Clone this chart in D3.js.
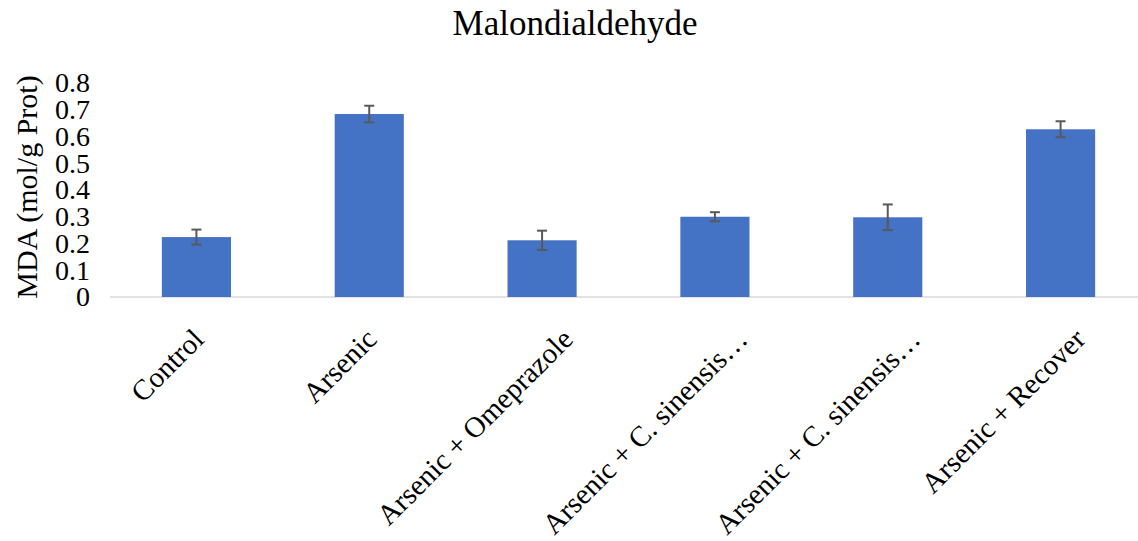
<!DOCTYPE html>
<html><head><meta charset="utf-8">
<script src="https://cdn.jsdelivr.net/npm/d3@7"></script>
<style>body{margin:0;background:#fff}svg{display:block} svg text{font-family:"Liberation Serif","Times New Roman",serif !important;}</style>
</head><body>
<svg id="c" width="1138" height="541"></svg>
<script>
const categories = ["Control","Arsenic","Arsenic + Omeprazole","Arsenic + C. sinensis…","Arsenic + C. sinensis…","Arsenic + Recover"];
const values = [0.224, 0.684, 0.212, 0.300, 0.298, 0.627];
const errors = [0.028, 0.031, 0.036, 0.017, 0.048, 0.030];
const yTicks = [0,0.1,0.2,0.3,0.4,0.5,0.6,0.7,0.8];
const title = "Malondialdehyde";
const yTitle = "MDA (mol/g Prot)";

const svg = d3.select("#c");
const x = d3.scaleBand().domain(d3.range(categories.length)).range([110,1147]).paddingInner(0.6).paddingOuter(0.3);
const y = d3.scaleLinear().domain([0,0.8]).range([297,83]);

svg.append("text").attr("x",575).attr("y",35).attr("text-anchor","middle")
  .style("font-size","35px").attr("fill","#000").text(title);

svg.append("text").attr("transform","translate(37,187) rotate(-90)").attr("text-anchor","middle")
  .style("font-size","30px").attr("fill","#000").text(yTitle);

const yAxis = svg.append("g").attr("transform","translate(90,0)")
  .call(d3.axisLeft(y).tickValues(yTicks).tickSize(0).tickPadding(0).tickFormat(d=>d===0?"0":d3.format(".1f")(d)));
yAxis.select(".domain").remove();
yAxis.selectAll("text").style("font-size","28px").attr("fill","#000");

svg.append("line").attr("x1",110).attr("x2",1138).attr("y1",y(0)).attr("y2",y(0))
  .attr("stroke","#d9d9d9").attr("stroke-width",1.5);

svg.selectAll("rect.bar").data(values).join("rect").attr("class","bar")
  .attr("x",(d,i)=>x(i)).attr("width",x.bandwidth())
  .attr("y",d=>y(d)).attr("height",d=>y(0)-y(d)).attr("fill","#4472C4");

const eb = svg.append("g").attr("stroke","#595959").attr("stroke-width",2);
values.forEach((v,i)=>{
  const cx = x(i)+x.bandwidth()/2;
  eb.append("line").attr("x1",cx).attr("x2",cx).attr("y1",y(v+errors[i])).attr("y2",y(v-errors[i]));
  eb.append("line").attr("x1",cx-5).attr("x2",cx+5).attr("y1",y(v+errors[i])).attr("y2",y(v+errors[i]));
  eb.append("line").attr("x1",cx-5).attr("x2",cx+5).attr("y1",y(v-errors[i])).attr("y2",y(v-errors[i]));
});

const xAxis = svg.append("g").attr("transform",`translate(0,${y(0)})`)
  .call(d3.axisBottom(x).tickSize(0).tickFormat(i=>categories[i]));
xAxis.select(".domain").remove();
xAxis.selectAll("text").attr("text-anchor","end").attr("dy","0").attr("y",0).attr("x",0)
  .style("font-size","29px").attr("fill","#000")
  .attr("transform",function(){
    const L = this.getComputedTextLength();
    return `translate(${-3 + 0.135*L},44) rotate(-45)`;
  });
</script>
</body></html>
